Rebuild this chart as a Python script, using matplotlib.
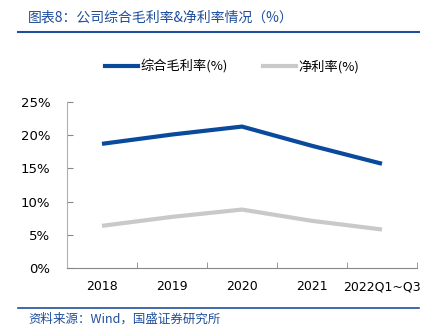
import matplotlib.pyplot as plt
from matplotlib.lines import Line2D

plt.rcParams['font.family'] = ['DejaVu Sans', 'Noto Sans CJK SC']

# data
years = ['2018', '2019', '2020', '2021', '2022Q1~Q3']
gross_margin = [18.7, 20.1, 21.3, 18.4, 15.7]
net_margin = [6.35, 7.7, 8.8, 7.1, 5.8]
yticks = [0, 5, 10, 15, 20, 25]

blue = '#0a4a9c'
grey = '#c9c9c9'
title_blue = '#1f4e9c'

fig = plt.figure(figsize=(4.34, 3.36), dpi=100)
ax = fig.add_axes([67 / 434, 1 - 268 / 336, 350 / 434, 166 / 336])

x = list(range(len(years)))
ax.plot(x, gross_margin, color=blue, lw=3, solid_capstyle='butt')
ax.plot(x, net_margin, color=grey, lw=3, solid_capstyle='butt')

ax.set_xlim(-0.5, len(years) - 0.5)
ax.set_ylim(0, 25)
ax.set_yticks(yticks)
ax.set_yticklabels([f'{v}%' for v in yticks], fontsize=9.5)
ax.set_xticks(x)
ax.set_xticklabels(years, fontsize=9)
ax.tick_params(axis='x', length=0, pad=9)
ax.set_xticks([i + 0.5 for i in x], minor=True)
ax.tick_params(axis='x', which='minor', direction='in', length=4, color='#888888')
ax.tick_params(axis='y', direction='in', length=4, color='#888888', pad=12)

for s in ['top', 'right']:
    ax.spines[s].set_visible(False)
ax.spines['left'].set_color('#b0b0b0')
ax.spines['bottom'].set_color('#888888')

handles = [Line2D([], [], color=blue, lw=3), Line2D([], [], color=grey, lw=3)]
fig.legend(handles, ['综合毛利率(%)', '净利率(%)'], loc='center', bbox_to_anchor=(0.535, 1 - 67 / 336),
           ncol=2, frameon=False, handlelength=2.5, handletextpad=0.2, columnspacing=2.6,
           prop={'family': ['Noto Sans CJK SC'], 'size': 9.5})

fig.text(28 / 434, 1 - 18 / 336, '图表8：公司综合毛利率&净利率情况（%）', color=title_blue, fontsize=10,
         style='italic', va='center', family=['Noto Sans CJK SC'])
fig.add_artist(Line2D([18 / 434, 419 / 434], [1 - 32 / 336] * 2, color=title_blue, lw=1.5))
fig.add_artist(Line2D([18 / 434, 419 / 434], [1 - 308 / 336] * 2, color=title_blue, lw=1.2))
fig.text(28 / 434, 1 - 319 / 336, '资料来源：Wind，国盛证券研究所', color=title_blue, fontsize=9,
         style='italic', va='center', family=['Noto Sans CJK SC'])

fig.savefig('out.png', dpi=100)
